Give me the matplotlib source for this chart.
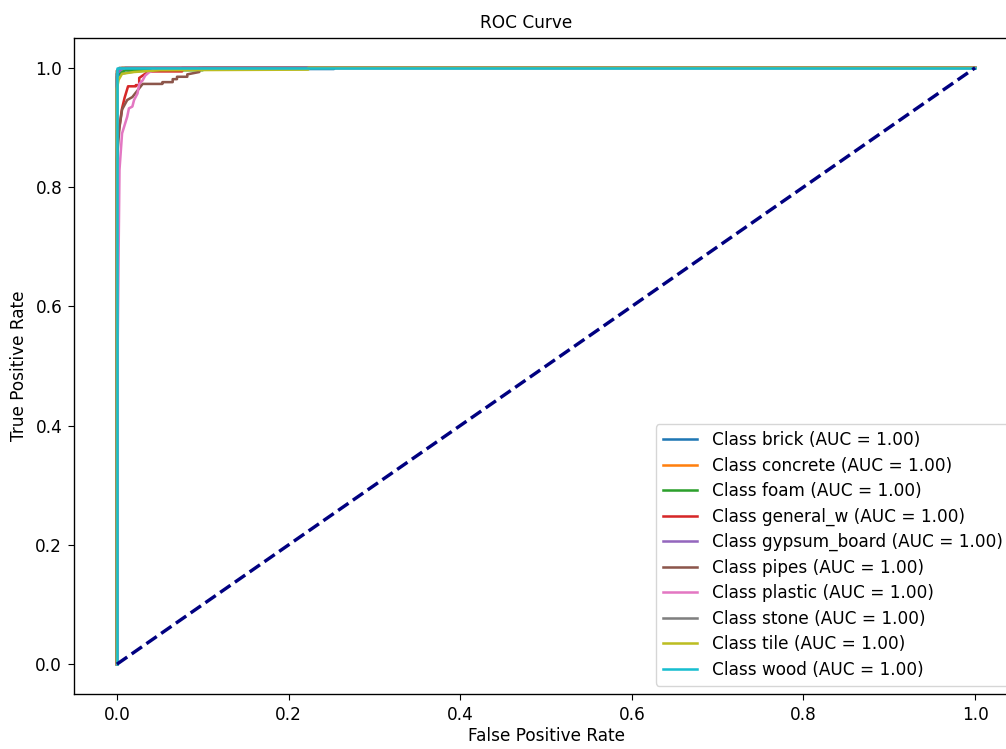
import matplotlib
matplotlib.use('Agg')
import matplotlib.pyplot as plt

classes = ['brick', 'concrete', 'foam', 'general_w', 'gypsum_board',
           'pipes', 'plastic', 'stone', 'tile', 'wood']
auc_vals = [1.00] * 10

# ROC points (fpr, tpr)
fpr_brick = [0, 0, 0.004, 0.016, 0.05, 0.253, 0.253, 1]
tpr_brick = [0, 0.985, 0.99, 0.993, 0.998, 0.998, 1.0, 1]

fpr_concrete = [0, 0, 0.006, 1]
tpr_concrete = [0, 0.995, 1.0, 1]

fpr_foam = [0, 0, 0.01, 0.1, 0.1, 1]
tpr_foam = [0, 0.99, 0.996, 0.996, 1.0, 1]

fpr_general = [0, 0, 0.001, 0.003, 0.006, 0.009, 0.013, 0.022, 0.022, 0.026,
               0.026, 0.037, 0.076, 0.076, 1]
tpr_general = [0, 0.86, 0.883, 0.902, 0.932, 0.95, 0.969, 0.969, 0.971, 0.971,
               0.983, 0.994, 0.994, 1.0, 1]

fpr_gypsum = [0, 0, 0.005, 0.01, 1]
tpr_gypsum = [0, 0.99, 0.997, 1.0, 1]

fpr_pipes = [0, 0, 0.003, 0.006, 0.012, 0.018, 0.024, 0.03, 0.053, 0.053,
             0.065, 0.065, 0.07, 0.07, 0.082, 0.082, 0.096, 0.096, 1]
tpr_pipes = [0, 0.846, 0.9, 0.93, 0.946, 0.951, 0.962, 0.973, 0.973, 0.976,
             0.976, 0.981, 0.981, 0.985, 0.985, 0.989, 0.993, 1.0, 1]

fpr_plastic = [0, 0.001, 0.001, 0.002, 0.003, 0.006, 0.012, 0.014, 0.018,
               0.02, 0.024, 0.026, 0.03, 0.033, 0.037, 0.041, 0.045, 1]
tpr_plastic = [0, 0, 0.544, 0.695, 0.829, 0.89, 0.918, 0.932, 0.935,
               0.946, 0.957, 0.973, 0.979, 0.987, 0.992, 0.995, 1.0, 1]

fpr_stone = [0, 0, 0.003, 1]
tpr_stone = [0, 0.995, 1.0, 1]

fpr_tile = [0, 0, 0.002, 0.006, 0.02, 0.05, 0.223, 0.223, 1]
tpr_tile = [0, 0.965, 0.98, 0.99, 0.993, 0.996, 0.997, 1.0, 1]

fpr_wood = [0, 0, 1]
tpr_wood = [0, 1.0, 1]

fprs = [fpr_brick, fpr_concrete, fpr_foam, fpr_general, fpr_gypsum,
        fpr_pipes, fpr_plastic, fpr_stone, fpr_tile, fpr_wood]
tprs = [tpr_brick, tpr_concrete, tpr_foam, tpr_general, tpr_gypsum,
        tpr_pipes, tpr_plastic, tpr_stone, tpr_tile, tpr_wood]

# the reference looks like a bigger render scaled down, so bump sizes
s = 1.22
plt.rcParams.update({
    'font.size': 10 * s,
    'xtick.major.size': 3.5 * s,
    'ytick.major.size': 3.5 * s,
    'xtick.major.pad': 3.5 * s,
    'ytick.major.pad': 3.5 * s,
    'axes.linewidth': 0.8 * s,
})

fig = plt.figure(figsize=(10.06, 7.49), dpi=100)
# the original is cropped on the right, so the axes run past the canvas
ax = fig.add_axes([74/1006, 55/749, 944/1006, 656/749])

for name, f, t, a in zip(classes, fprs, tprs, auc_vals):
    ax.plot(f, t, lw=1.5 * s, label='Class %s (AUC = %.2f)' % (name, a))

ax.plot([0, 1], [0, 1], color='navy', lw=2 * s, linestyle='--')
ax.set_xlim(-0.05, 1.05)
ax.set_ylim(-0.05, 1.05)
ax.set_xlabel('False Positive Rate', labelpad=2)
ax.set_ylabel('True Positive Rate', labelpad=5)
ax.set_title('ROC Curve', fontsize=10 * s, x=(526 - 74) / 944, pad=7)
ax.legend(loc='lower right', fontsize=10 * s, labelspacing=0.44,
          handletextpad=0.9)

fig.savefig('out.png', dpi=100)
